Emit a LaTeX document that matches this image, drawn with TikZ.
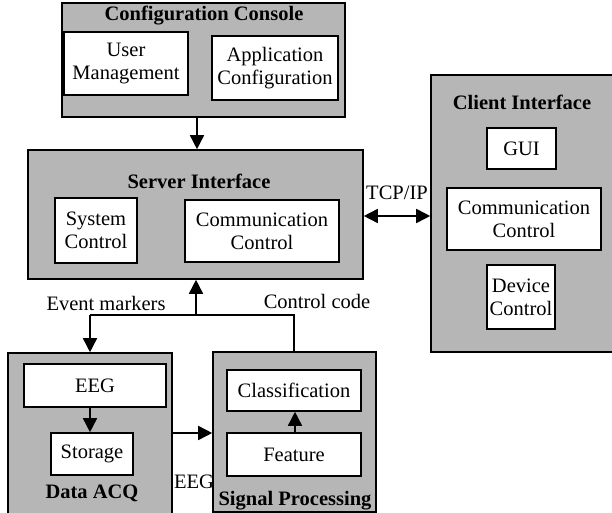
\documentclass[tikz,border=0pt]{standalone}
\usepackage{fontspec}
\setmainfont{Liberation Serif}
\usetikzlibrary{arrows.meta}
\begin{document}
\begin{tikzpicture}[x=1pt,y=-1pt,
  outer/.style={draw=black,line width=1.6pt,fill=gray!50!white!95!black,inner sep=0pt,anchor=center},
  inner/.style={draw=black,line width=1.6pt,fill=white,inner sep=0pt,align=center,font=\fontsize{20.5}{23}\selectfont},
  ttl/.style={font=\fontsize{20.5}{23}\selectfont\bfseries,inner sep=0pt},
  lbl/.style={font=\fontsize{20.5}{23}\selectfont,inner sep=0pt},
  conn/.style={line width=1.6pt},
  arr/.style={line width=1.6pt,-{Triangle[length=14pt,width=14pt]}},
  darr/.style={line width=1.6pt,{Triangle[length=14pt,width=14pt]}-{Triangle[length=14pt,width=14pt]}}
]
\useasboundingbox (0,0) rectangle (612,513);
\begin{scope}
\clip (0,0) rectangle (612,513);
% outer boxes
\node[outer,minimum width=283pt,minimum height=114pt] (console) at (203.5,60) {};
\node[outer,minimum width=335pt,minimum height=129pt] (server) at (195.5,214.5) {};
\node[outer,minimum width=184pt,minimum height=277pt] (client) at (523,213.5) {};
\node[outer,minimum width=164pt,minimum height=177pt] (acq) at (90,441.5) {};
\node[outer,minimum width=163pt,minimum height=160pt] (sp) at (294.5,432) {};
\end{scope}
% titles
\node[ttl] (tconsole) at (204,16) {Configuration Console};
\node[ttl] (tserver) at (199,181) {Server Interface};
\node[ttl] (tclient) at (522,102) {Client Interface};
\node[ttl] (tacq) at (92,493) {Data ACQ};
\node[ttl] (tsp) at (295,501) {Signal Processing};
% inner boxes
\node[inner,minimum width=124pt,minimum height=63pt] (um) at (126,63.5) {User\\Management};
\node[inner,minimum width=126pt,minimum height=64pt] (ac) at (275,68) {Application\\Configuration};
\node[inner,minimum width=82pt,minimum height=65pt] (sc) at (96,230.5) {System\\Control};
\node[inner,minimum width=154pt,minimum height=62pt] (scc) at (262,231) {Communication\\Control};
\node[inner,minimum width=69pt,minimum height=41pt] (gui) at (521.5,148.5) {GUI};
\node[inner,minimum width=154pt,minimum height=62pt] (ccc) at (524,219) {Communication\\Control};
\node[inner,minimum width=68pt,minimum height=64pt] (dc) at (521,297) {Device\\Control};
\node[inner,minimum width=142pt,minimum height=43pt] (eeg) at (95,385.5) {EEG};
\node[inner,minimum width=82pt,minimum height=42pt] (sto) at (92,454) {Storage};
\node[inner,minimum width=134pt,minimum height=41pt] (cls) at (294,390.5) {Classification};
\node[inner,minimum width=134pt,minimum height=43pt] (feat) at (294,454.5) {Feature};
% labels
\node[lbl] (ltcp) at (397,193) {TCP/IP};
\node[lbl] (lev) at (106,303) {Event markers};
\node[lbl] (lcc) at (317,301) {Control code};
\node[lbl] (leeg) at (194,482) {EEG};
% connectors
\coordinate (jl) at (90,315);
\coordinate (jm) at (196,315);
\coordinate (jr) at (294,315);
\draw[arr] (console.south -| 197,0) -- (server.north -| 197,0);
\draw[darr] (server.east |- 0,216) -- (client.west |- 0,216);
\draw[conn] (jl) -- (jr) -- (sp.north -| jr);
\draw[arr] (jm) -- (server.south -| jm);
\draw[arr] (jl) -- (acq.north -| jl);
\draw[arr] (eeg.south -| 90,0) -- (sto.north -| 90,0);
\draw[arr] (feat.north -| 295,0) -- (cls.south -| 295,0);
\draw[arr] (acq.east |- 0,433) -- (sp.west |- 0,433);
\end{tikzpicture}
\end{document}
